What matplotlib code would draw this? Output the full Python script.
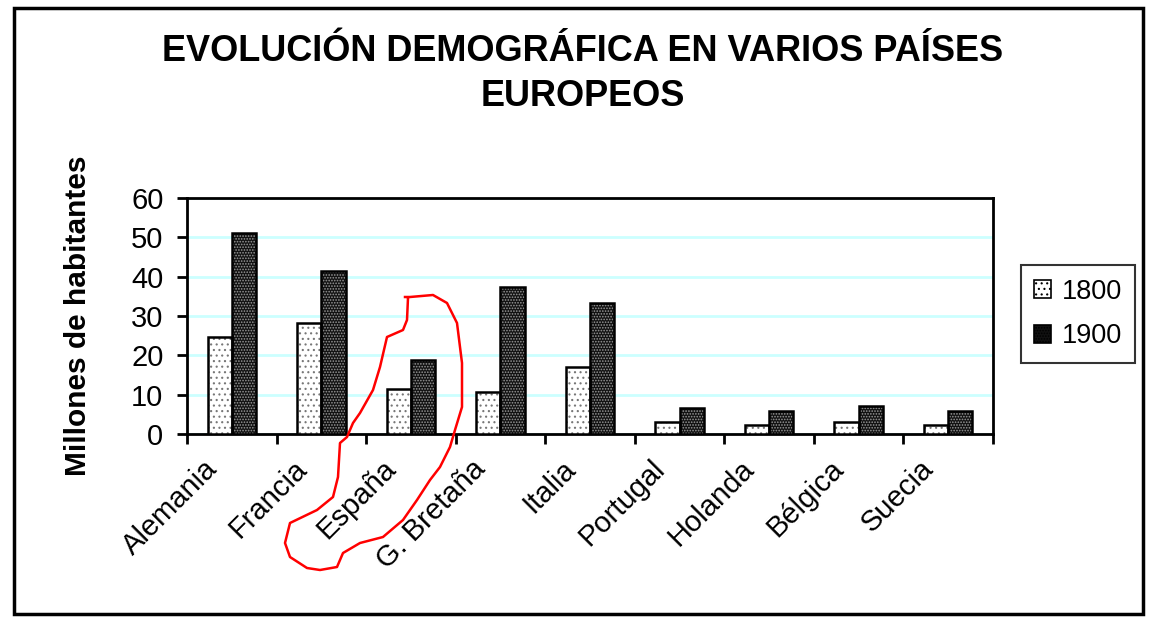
import matplotlib.pyplot as plt
import matplotlib.transforms as mtransforms
import numpy as np
from matplotlib.lines import Line2D
from matplotlib.patches import Rectangle, Patch

plt.rcParams["font.family"] = ["Liberation Sans", "DejaVu Sans"]
plt.rcParams["hatch.linewidth"] = 0.8

countries = ["Alemania", "Francia", "España", "G. Bretaña", "Italia",
             "Portugal", "Holanda", "Bélgica", "Suecia"]
pop_1800 = [24.7, 28.2, 11.4, 10.8, 17.1, 3.0, 2.3, 3.0, 2.3]
pop_1900 = [51.2, 41.5, 18.8, 37.3, 33.2, 6.5, 5.8, 7.1, 5.8]
years = ["1800", "1900"]
yticks = [0, 10, 20, 30, 40, 50, 60]

title = "EVOLUCIÓN DEMOGRÁFICA EN VARIOS PAÍSES\nEUROPEOS"
ylabel = "Millones de habitantes"

# hand-drawn red loop around España (figure pixels, from the scan)
scribble_x = [405, 410, 433, 447, 457, 462, 462, 455, 450, 440, 430, 417, 403, 383,
              360, 343, 337, 320, 307, 290, 285, 290, 317, 333, 338, 340, 347, 353,
              360, 373, 380, 387, 403, 407, 408]
scribble_y = [297, 297, 295, 303, 323, 363, 407, 430, 447, 467, 480, 500, 520, 537,
              543, 553, 567, 570, 568, 557, 543, 523, 510, 497, 477, 443, 437, 423,
              413, 390, 367, 337, 330, 320, 298]

W, H = 1151, 624
fig = plt.figure(figsize=(W / 100, H / 100), dpi=100)
ax = fig.add_axes([187 / W, 1 - 434 / H, (993 - 187) / W, (434 - 198) / H])

x = np.arange(len(countries))
bw = 0.27

# fills with hatching (hatch colour follows edgecolor), then black outlines
ax.bar(x - bw / 2, pop_1800, bw, facecolor="white", edgecolor="#777777",
       hatch="...", linewidth=0, zorder=3)
ax.bar(x + bw / 2, pop_1900, bw, facecolor="#111111", edgecolor="#9a9a9a",
       hatch="......", linewidth=0, zorder=3)
ax.bar(x - bw / 2, pop_1800, bw, fill=False, edgecolor="black", linewidth=1.8, zorder=4)
ax.bar(x + bw / 2, pop_1900, bw, fill=False, edgecolor="black", linewidth=1.8, zorder=4)

ax.set_xlim(-0.5, len(countries) - 0.5)
ax.set_ylim(0, 60)
ax.set_yticks(yticks)
ax.set_yticklabels([str(v) for v in yticks], fontsize=21)
ax.yaxis.grid(True, color="#ccffff", linewidth=2, zorder=0)
ax.set_axisbelow(True)

ax.set_xticks(x)
ax.set_xticklabels(countries, rotation=45, ha="right", va="center",
                   rotation_mode="anchor", fontsize=21)
ax.set_xticks(np.arange(-0.5, len(countries)), minor=True)
ax.tick_params(axis="x", which="major", length=0, pad=22)
ax.tick_params(axis="x", which="minor", length=7, width=2, direction="out")
ax.tick_params(axis="y", length=7, width=2, direction="out", pad=10)

# nudge the slanted labels left, as in the original
shift = mtransforms.ScaledTranslation(-19 / 100, 0, fig.dpi_scale_trans)
for lab in ax.get_xticklabels():
    lab.set_transform(lab.get_transform() + shift)

for s in ax.spines.values():
    s.set_linewidth(2)

ax.set_ylabel(ylabel, fontsize=21.5, fontweight="bold", labelpad=28)

fig.text(583 / W, 1 - 74 / H, title, ha="center", va="center",
         fontsize=26, fontweight="bold", linespacing=1.4)

handles = [Patch(facecolor="white", edgecolor="black", hatch="...", linewidth=1.2),
           Patch(facecolor="#111111", edgecolor="black", hatch="......", linewidth=1.2)]
leg = fig.legend(handles, years, loc="center", bbox_to_anchor=(1078 / W, 1 - 314 / H),
                 fontsize=19.5, frameon=True, fancybox=False, handlelength=0.6,
                 handleheight=0.6, handletextpad=0.4, labelspacing=0.7,
                 borderpad=0.5, borderaxespad=0, edgecolor="black")
leg.get_frame().set_linewidth(1.5)

fig.add_artist(Rectangle((14 / W, 1 - 614 / H), (1143 - 14) / W, (614 - 8) / H,
                         transform=fig.transFigure, fill=False, edgecolor="black",
                         linewidth=2.5))

fig.add_artist(Line2D([v / W for v in scribble_x], [1 - v / H for v in scribble_y],
                      transform=fig.transFigure, color="red", linewidth=1.8, zorder=10))

fig.savefig("out.png", dpi=100, facecolor="white")
